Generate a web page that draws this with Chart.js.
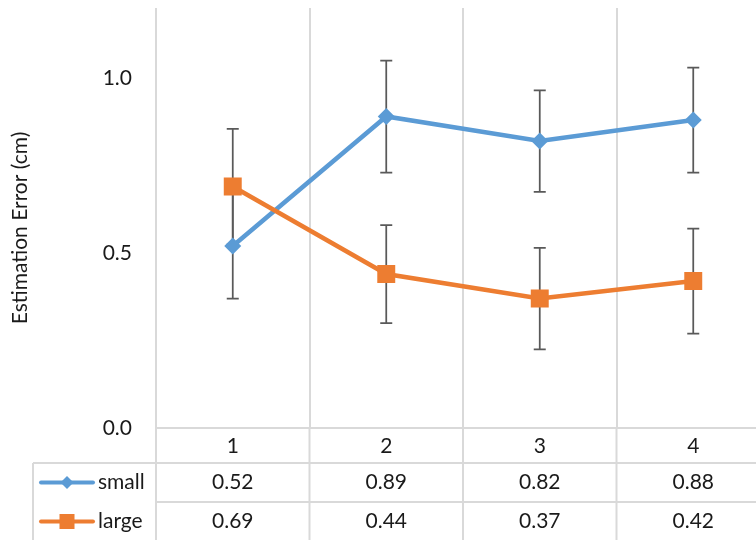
<!DOCTYPE html>
<html>
<head>
<meta charset="utf-8">
<title>Estimation Error</title>
<script src="https://cdn.jsdelivr.net/npm/chart.js@4/dist/chart.umd.min.js"></script>
<style>
  html, body { margin: 0; padding: 0; background: #fff; overflow: hidden; }
  #wrap { width: 756px; height: 540px; overflow: hidden; }
</style>
</head>
<body>
<div id="wrap">
  <canvas id="myChart" width="780" height="560" style="width:780px;height:560px"></canvas>
</div>
<script>
const categories = ['1', '2', '3', '4'];
const seriesNames = ['small', 'large'];
const smallValues = [0.52, 0.89, 0.82, 0.88];
const largeValues = [0.69, 0.44, 0.37, 0.42];
const smallErrors = [0.15, 0.16, 0.145, 0.15];
const largeErrors = [0.165, 0.14, 0.145, 0.15];
const yTicks = [0, 0.5, 1.0];

const blue = '#5B9BD5';
const orange = '#ED7D31';
const gridColor = '#d9d9d9';
const textColor = '#1a1a1a';
const fontName = 'Lato, "Open Sans", sans-serif';

// table rows under the plot
const tableTop = 428;
const rowBottoms = [463, 502, 541];
const tableLeft = 33;

function diamond(ctx, x, y, r) {
    ctx.beginPath();
    ctx.moveTo(x - r, y);
    ctx.lineTo(x, y - r);
    ctx.lineTo(x + r, y);
    ctx.lineTo(x, y + r);
    ctx.closePath();
    ctx.fill();
}

// error bars go under the lines and markers
const errorBars = {
    id: 'errorBars',
    beforeDatasetsDraw(chart) {
        const ctx = chart.ctx;
        const y = chart.scales.y;
        const errs = [smallErrors, largeErrors];
        ctx.save();
        ctx.strokeStyle = '#595959';
        ctx.lineWidth = 1.75;
        chart.data.datasets.forEach((ds, i) => {
            const meta = chart.getDatasetMeta(i);
            meta.data.forEach((pt, j) => {
                const top = y.getPixelForValue(ds.data[j] + errs[i][j]);
                const bot = y.getPixelForValue(ds.data[j] - errs[i][j]);
                ctx.beginPath();
                ctx.moveTo(pt.x, top);
                ctx.lineTo(pt.x, bot);
                ctx.moveTo(pt.x - 6, top);
                ctx.lineTo(pt.x + 6, top);
                ctx.moveTo(pt.x - 6, bot);
                ctx.lineTo(pt.x + 6, bot);
                ctx.stroke();
            });
        });
        ctx.restore();
    }
};

// Excel style data table + rotated axis title
const dataTable = {
    id: 'dataTable',
    afterDraw(chart) {
        const ctx = chart.ctx;
        const x = chart.scales.x;
        const area = chart.chartArea;
        const half = (x.getPixelForValue(1) - x.getPixelForValue(0)) / 2;
        ctx.save();
        ctx.strokeStyle = gridColor;
        ctx.lineWidth = 2;

        // horizontal rules
        rowBottoms.forEach((yy) => {
            ctx.beginPath();
            ctx.moveTo(yy === rowBottoms[0] ? tableLeft : area.left, yy);
            ctx.lineTo(chart.width, yy);
            ctx.stroke();
        });
        // left edge of the label column
        ctx.beginPath();
        ctx.moveTo(tableLeft, rowBottoms[0]);
        ctx.lineTo(tableLeft, rowBottoms[2]);
        ctx.stroke();
        // column separators carry on below the axis
        for (let i = 0; i <= categories.length; i++) {
            const xx = x.getPixelForValue(0) - half + i * 2 * half;
            ctx.beginPath();
            ctx.moveTo(xx, tableTop);
            ctx.lineTo(xx, rowBottoms[2]);
            ctx.stroke();
        }

        ctx.fillStyle = textColor;
        ctx.font = '21px ' + fontName;
        ctx.textAlign = 'center';
        ctx.textBaseline = 'middle';
        categories.forEach((c, i) => {
            const cx = x.getPixelForValue(i);
            ctx.fillText(c, cx, (tableTop + rowBottoms[0]) / 2 + 1);
            ctx.fillText(smallValues[i].toFixed(2), cx, (rowBottoms[0] + rowBottoms[1]) / 2);
            ctx.fillText(largeValues[i].toFixed(2), cx, (rowBottoms[1] + rowBottoms[2]) / 2);
        });

        // legend keys in the first column
        const colors = [blue, orange];
        seriesNames.forEach((name, i) => {
            const cy = (rowBottoms[i] + rowBottoms[i + 1]) / 2;
            ctx.strokeStyle = colors[i];
            ctx.fillStyle = colors[i];
            ctx.lineWidth = 4;
            ctx.lineCap = 'round';
            ctx.beginPath();
            ctx.moveTo(41, cy);
            ctx.lineTo(93, cy);
            ctx.stroke();
            if (i === 0) diamond(ctx, 67, cy, 6.5);
            else ctx.fillRect(67 - 7.5, cy - 7.5, 15, 15);
            ctx.fillStyle = textColor;
            ctx.textAlign = 'left';
            ctx.fillText(name, 98, cy);
        });

        // y axis title
        ctx.translate(20, 228);
        ctx.rotate(-Math.PI / 2);
        ctx.textAlign = 'center';
        ctx.font = '21px ' + fontName;
        ctx.fillText('Estimation Error (cm)', 0, 0);
        ctx.restore();
    }
};

const ctx = document.getElementById('myChart').getContext('2d');
new Chart(ctx, {
    type: 'line',
    data: {
        labels: categories,
        datasets: [{
            label: seriesNames[0],
            data: smallValues,
            borderColor: blue,
            backgroundColor: blue,
            borderWidth: 4.5,
            pointStyle: 'rectRot',
            pointRadius: 8.5,
            pointBorderWidth: 0,
            tension: 0,
            order: 1
        }, {
            label: seriesNames[1],
            data: largeValues,
            borderColor: orange,
            backgroundColor: orange,
            borderWidth: 4.5,
            pointStyle: 'rect',
            pointRadius: 12.7,
            pointBorderWidth: 0,
            tension: 0,
            order: 0
        }]
    },
    options: {
        responsive: false,
        animation: false,
        devicePixelRatio: 1,
        layout: {
            // the big markers would otherwise add their own padding
            autoPadding: false,
            padding: { top: 8, bottom: 132, left: 0, right: 10 }
        },
        plugins: {
            legend: { display: false },
            tooltip: { enabled: false }
        },
        scales: {
            x: {
                offset: true,
                grid: { offset: true, color: gridColor, lineWidth: 2, drawTicks: false },
                border: { display: true, color: gridColor, width: 2 },
                ticks: { display: false },
                afterFit(scale) { scale.height = 0; }
            },
            y: {
                min: 0,
                max: 1.2,
                grid: { display: false, drawTicks: false },
                border: { display: false },
                afterBuildTicks(scale) {
                    scale.ticks = yTicks.map((v) => ({ value: v }));
                },
                afterFit(scale) {
                    scale.width = 156;
                    // tick padding would otherwise push the plot top down
                    scale.paddingTop = 0;
                    scale.paddingBottom = 0;
                },
                ticks: {
                    padding: 24,
                    color: textColor,
                    font: { family: fontName, size: 21 },
                    callback: (v) => Number(v).toFixed(1)
                }
            }
        }
    },
    plugins: [errorBars, dataTable]
});
</script>
</body>
</html>
